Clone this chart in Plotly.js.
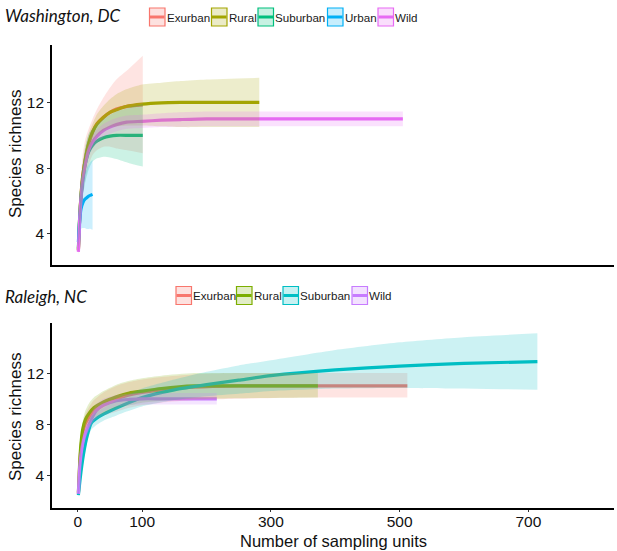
<!DOCTYPE html>
<html>
<head>
<meta charset="utf-8">
<script src="https://cdn.plot.ly/plotly-3.0.1.min.js"></script>
<style>html,body{margin:0;padding:0;background:#fff;}#chart{width:617px;height:551px;}</style>
</head>
<body>
<div id="chart"></div>
<script>
// ---------- categories ----------
const catsDC = ['Exurban', 'Rural', 'Suburban', 'Urban', 'Wild'];
const catsNC = ['Exurban', 'Rural', 'Suburban', 'Wild'];
const panelTitles = ['Washington, DC', 'Raleigh, NC'];
const xTickVals = [0, 100, 300, 500, 700];
const yTickVals = [4, 8, 12];
const xAxisTitle = 'Number of sampling units';
const yAxisTitle = 'Species richness';

// ---------- Washington, DC ----------
const dcExurbanX  = [1, 3, 5, 8, 12, 17, 23, 30, 40, 50, 60, 75, 101];
const dcExurbanY  = [3.0, 5.0, 6.3, 7.6, 8.6, 9.5, 10.2, 10.7, 11.1, 11.4, 11.6, 11.75, 11.85];
const dcExurbanLo = [2.7, 4.0, 5.0, 6.2, 7.3, 8.2, 8.8, 9.1, 9.3, 9.3, 9.2, 9.1, 8.9];
const dcExurbanHi = [3.3, 6.0, 7.6, 8.9, 9.8, 10.4, 11.0, 11.6, 12.3, 12.9, 13.4, 13.9, 14.85];

const dcRuralX  = [1, 3, 5, 8, 12, 17, 23, 30, 40, 50, 60, 75, 100, 130, 160, 200, 282];
const dcRuralY  = [3.0, 5.0, 6.3, 7.6, 8.6, 9.5, 10.2, 10.7, 11.1, 11.4, 11.55, 11.75, 11.9, 11.98, 12.0, 12.0, 12.0];
const dcRuralLo = [2.8, 4.5, 5.7, 6.9, 7.9, 8.9, 9.6, 10.0, 10.3, 10.5, 10.55, 10.6, 10.6, 10.55, 10.5, 10.5, 10.5];
const dcRuralHi = [3.2, 5.5, 6.9, 8.3, 9.3, 10.1, 10.7, 11.3, 11.8, 12.2, 12.5, 12.8, 13.1, 13.2, 13.3, 13.4, 13.5];

const dcSuburbanX  = [1, 3, 5, 8, 12, 17, 23, 30, 40, 50, 60, 80, 101];
const dcSuburbanY  = [3.1, 5.0, 6.2, 7.4, 8.3, 9.0, 9.4, 9.65, 9.85, 9.95, 10.0, 10.0, 10.0];
const dcSuburbanLo = [2.8, 4.4, 5.4, 6.4, 7.2, 7.9, 8.4, 8.6, 8.7, 8.65, 8.55, 8.3, 8.1];
const dcSuburbanHi = [3.4, 5.6, 7.0, 8.4, 9.4, 10.1, 10.4, 10.7, 11.0, 11.25, 11.45, 11.7, 11.9];

const dcUrbanX  = [1, 3, 5, 8, 11, 14, 17, 20, 23];
const dcUrbanY  = [3.5, 4.8, 5.5, 5.9, 6.1, 6.2, 6.3, 6.35, 6.4];
const dcUrbanLo = [3.2, 4.0, 4.3, 4.35, 4.35, 4.3, 4.3, 4.3, 4.25];
const dcUrbanHi = [3.8, 5.6, 6.7, 7.3, 7.7, 8.0, 8.2, 8.4, 8.5];

const dcWildX  = [1, 3, 5, 8, 12, 17, 23, 30, 40, 50, 60, 76, 100, 130, 160, 200, 300, 400, 505];
const dcWildY  = [2.9, 4.8, 6.1, 7.3, 8.3, 9.1, 9.6, 9.95, 10.3, 10.5, 10.65, 10.8, 10.85, 10.92, 10.96, 11.0, 11.0, 11.0, 11.0];
const dcWildLo = [2.7, 4.5, 5.75, 6.9, 7.9, 8.7, 9.2, 9.55, 9.9, 10.1, 10.25, 10.4, 10.45, 10.5, 10.52, 10.55, 10.55, 10.55, 10.55];
const dcWildHi = [3.1, 5.1, 6.45, 7.7, 8.7, 9.5, 10.0, 10.35, 10.7, 10.9, 11.05, 11.2, 11.25, 11.34, 11.4, 11.45, 11.45, 11.45, 11.45];

// ---------- Raleigh, NC ----------
const ncExurbanX  = [1, 3, 5, 8, 12, 18, 25, 40, 60, 80, 100, 130, 180, 250, 350, 512];
const ncExurbanY  = [2.6, 4.8, 6.2, 7.4, 8.1, 8.6, 9.1, 9.6, 10.0, 10.3, 10.5, 10.7, 10.9, 11.0, 11.0, 11.0];
const ncExurbanLo = [2.4, 4.4, 5.7, 6.8, 7.4, 7.8, 8.3, 8.7, 9.0, 9.3, 9.5, 9.7, 9.9, 10.0, 10.1, 10.1];
const ncExurbanHi = [2.8, 5.2, 6.7, 8.0, 8.8, 9.4, 9.9, 10.5, 11.0, 11.3, 11.5, 11.7, 11.9, 12.0, 12.0, 12.0];

const ncRuralX  = [1, 3, 5, 8, 12, 18, 25, 40, 60, 80, 100, 130, 180, 250, 373];
const ncRuralY  = [2.7, 5.0, 6.5, 7.7, 8.4, 8.9, 9.3, 9.75, 10.15, 10.45, 10.6, 10.8, 11.0, 11.0, 11.0];
const ncRuralLo = [2.5, 4.6, 6.0, 7.1, 7.7, 8.1, 8.5, 8.9, 9.3, 9.5, 9.7, 9.85, 10.0, 10.05, 10.1];
const ncRuralHi = [2.9, 5.4, 7.0, 8.3, 9.1, 9.7, 10.1, 10.6, 11.1, 11.4, 11.6, 11.8, 12.0, 12.0, 12.0];

const ncSuburbanX  = [1, 5, 10, 15, 21, 30, 40, 50, 70, 100, 150, 200, 250, 300, 400, 500, 600, 714];
const ncSuburbanY  = [2.5, 4.3, 6.0, 7.2, 8.1, 8.5, 8.8, 9.05, 9.5, 10.1, 10.7, 11.1, 11.45, 11.8, 12.25, 12.55, 12.75, 12.9];
const ncSuburbanLo = [2.3, 3.9, 5.5, 6.7, 7.6, 8.0, 8.3, 8.5, 8.9, 9.4, 9.9, 10.2, 10.4, 10.6, 10.8, 10.85, 10.8, 10.7];
const ncSuburbanHi = [2.7, 4.7, 6.5, 7.7, 8.6, 9.0, 9.3, 9.6, 10.1, 10.8, 11.5, 12.1, 12.6, 13.0, 13.8, 14.4, 14.8, 15.1];

const ncWildX  = [1, 3, 6, 10, 14, 20, 29, 40, 60, 80, 100, 130, 160, 216];
const ncWildY  = [2.6, 4.6, 6.0, 7.0, 7.6, 8.3, 9.1, 9.5, 9.85, 9.95, 10.0, 10.0, 10.0, 10.0];
const ncWildLo = [2.4, 4.3, 5.6, 6.5, 7.1, 7.8, 8.6, 9.0, 9.4, 9.5, 9.55, 9.55, 9.55, 9.55];
const ncWildHi = [2.8, 4.9, 6.4, 7.5, 8.1, 8.8, 9.6, 10.0, 10.3, 10.4, 10.45, 10.45, 10.45, 10.45];

// ---------- styles ----------
const colorsDC = ['#F8766D', '#A3A500', '#00BF7D', '#00B0F6', '#E76BF3'];
const colorsNC = ['#F8766D', '#7CAE00', '#00BFC4', '#C77CFF'];
const ribbonAlpha = 0.2;
const W = 617, H = 551;

function rgba(hex, a) {
  const n = parseInt(hex.slice(1), 16);
  return 'rgba(' + ((n >> 16) & 255) + ',' + ((n >> 8) & 255) + ',' + (n & 255) + ',' + a + ')';
}

const seriesDC = [
  [dcExurbanX, dcExurbanY, dcExurbanLo, dcExurbanHi],
  [dcRuralX, dcRuralY, dcRuralLo, dcRuralHi],
  [dcSuburbanX, dcSuburbanY, dcSuburbanLo, dcSuburbanHi],
  [dcUrbanX, dcUrbanY, dcUrbanLo, dcUrbanHi],
  [dcWildX, dcWildY, dcWildLo, dcWildHi]
];
const seriesNC = [
  [ncExurbanX, ncExurbanY, ncExurbanLo, ncExurbanHi],
  [ncRuralX, ncRuralY, ncRuralLo, ncRuralHi],
  [ncSuburbanX, ncSuburbanY, ncSuburbanLo, ncSuburbanHi],
  [ncWildX, ncWildY, ncWildLo, ncWildHi]
];

const traces = [];
const smooth = { shape: 'spline', smoothing: 0.6 };
function addPanel(series, cats, colors, xa, ya) {
  // lines first (ribbons are drawn over them, as in the original)
  series.forEach((s, i) => {
    traces.push({
      type: 'scatter', mode: 'lines', x: s[0], y: s[1], xaxis: xa, yaxis: ya,
      name: cats[i], showlegend: false, hoverinfo: 'skip',
      line: Object.assign({ color: colors[i], width: 3.2 }, smooth)
    });
  });
  series.forEach((s, i) => {
    traces.push({
      type: 'scatter', mode: 'lines', xaxis: xa, yaxis: ya, x: s[0], y: s[2],
      line: Object.assign({ width: 0, color: 'rgba(0,0,0,0)' }, smooth),
      showlegend: false, hoverinfo: 'skip'
    });
    traces.push({
      type: 'scatter', mode: 'lines', xaxis: xa, yaxis: ya, x: s[0], y: s[3],
      fill: 'tonexty', fillcolor: rgba(colors[i], ribbonAlpha),
      line: Object.assign({ width: 0, color: 'rgba(0,0,0,0)' }, smooth),
      showlegend: false, hoverinfo: 'skip'
    });
  });
}
addPanel(seriesDC, catsDC, colorsDC, 'x', 'y');
addPanel(seriesNC, catsNC, colorsNC, 'x2', 'y2');

// ---------- custom ggplot-style legends ----------
const shapes = [];
const annotations = [];
const px = v => v / W;
const py = v => 1 - v / H;
function addLegend(cats, colors, starts, top) {
  const bw = 15.5, bh = 18;
  cats.forEach((c, i) => {
    const x0 = starts[i];
    shapes.push({ type: 'rect', xref: 'paper', yref: 'paper',
      x0: px(x0), x1: px(x0 + bw), y0: py(top + bh), y1: py(top),
      fillcolor: rgba(colors[i], 0.22), line: { color: colors[i], width: 1.2 } });
    shapes.push({ type: 'line', xref: 'paper', yref: 'paper',
      x0: px(x0 + 0.5), x1: px(x0 + bw - 0.5), y0: py(top + bh / 2), y1: py(top + bh / 2),
      line: { color: colors[i], width: 3 } });
    annotations.push({ xref: 'paper', yref: 'paper', x: px(x0 + bw + 0.5), y: py(top + bh / 2),
      xanchor: 'left', yanchor: 'middle', showarrow: false, text: c, borderpad: 0,
      font: { family: 'Liberation Sans, Arial, sans-serif', size: 11.6, color: '#1a1a1a' } });
  });
}
addLegend(catsDC, colorsDC, [149.5, 211.5, 258, 327.5, 378], 8);
addLegend(catsNC, colorsNC, [176, 236.5, 283, 352], 286.5);

const titleFontPanel = { family: 'Lato, sans-serif', size: 17, style: 'italic', color: '#111' };
annotations.push({ xref: 'paper', yref: 'paper', x: px(3), y: py(15), xanchor: 'left', yanchor: 'middle',
  showarrow: false, text: panelTitles[0], font: titleFontPanel });
annotations.push({ xref: 'paper', yref: 'paper', x: px(3), y: py(296), xanchor: 'left', yanchor: 'middle',
  showarrow: false, text: panelTitles[1], font: titleFontPanel });

// axis titles (placed as text annotations for exact positioning)
const titleFont = { family: 'Liberation Sans, Arial, sans-serif', size: 17, color: '#111' };
annotations.push({ xref: 'paper', yref: 'paper', x: px(333), y: 0, xanchor: 'center', yanchor: 'bottom',
  showarrow: false, text: xAxisTitle, font: { family: titleFont.family, size: 16.5, color: '#111' }, borderpad: 0 });
annotations.push({ xref: 'paper', yref: 'paper', x: px(15), y: py(154), xanchor: 'center', yanchor: 'middle',
  showarrow: false, text: yAxisTitle, textangle: -90, font: titleFont });
annotations.push({ xref: 'paper', yref: 'paper', x: px(15), y: py(417), xanchor: 'center', yanchor: 'middle',
  showarrow: false, text: yAxisTitle, textangle: -90, font: titleFont });

const tickFont = { family: 'Liberation Sans, Arial, sans-serif', size: 15.5, color: '#111' };
const xDomain = [52 / W, 1 - 3 / W];
const xRange = [-40, 833];

const axisBase = {
  showline: true, linecolor: '#000', linewidth: 1.8, showgrid: false, zeroline: false,
  ticks: 'outside', ticklen: 3, tickcolor: '#333', tickwidth: 1, tickfont: tickFont, fixedrange: true
};

const layout = {
  width: W, height: H,
  margin: { l: 0, r: 0, t: 0, b: 0 },
  paper_bgcolor: '#fff', plot_bgcolor: '#fff',
  showlegend: false,
  xaxis: Object.assign({}, axisBase, { domain: xDomain, range: xRange, anchor: 'y',
    showticklabels: false, ticks: '' }),
  yaxis: Object.assign({}, axisBase, { domain: [1 - 265 / H, 1 - 45 / H], range: [2.1, 15.5], anchor: 'x',
    tickvals: yTickVals }),
  xaxis2: Object.assign({}, axisBase, { domain: xDomain, range: xRange, anchor: 'y2',
    tickvals: xTickVals, ticklen: 2, ticklabelstandoff: -3 }),
  yaxis2: Object.assign({}, axisBase, { domain: [1 - 508 / H, 1 - 323 / H], range: [1.5, 15.9], anchor: 'x2',
    tickvals: yTickVals }),
  shapes: shapes,
  annotations: annotations
};

Plotly.newPlot('chart', traces, layout, { staticPlot: true, displayModeBar: false });
</script>
</body>
</html>
